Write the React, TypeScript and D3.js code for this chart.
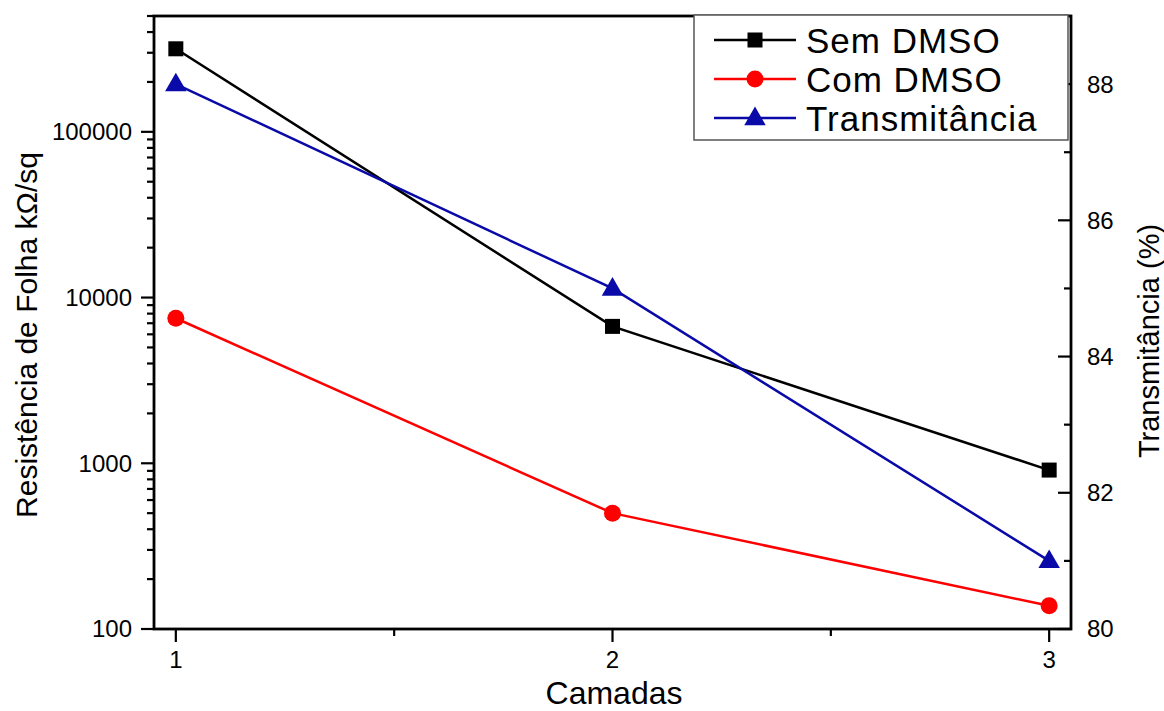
import * as d3 from "d3";

const camadas = [1, 2, 3];
const semDMSO = [317000, 6700, 910];
const comDMSO = [7500, 500, 138];
const transmitancia = [88, 85, 81];
const leftTicks = [100, 1000, 10000, 100000];
const rightTicks = [80, 82, 84, 86, 88];
const xTicks = [1, 2, 3];

const W = 1164, H = 711;
const m = { left: 154, right: 93, top: 16, bottom: 82 };
const FONT = "'Liberation Sans', Arial, sans-serif";

export default function App() {
  const x = d3.scaleLinear().domain([0.95, 3.05]).range([m.left, W - m.right]);
  const yL = d3.scaleLog().domain([100, 500000]).range([H - m.bottom, m.top]);
  const yR = d3.scaleLinear().domain([80, 89]).range([H - m.bottom, m.top]);
  const x0 = m.left, x1 = W - m.right, yb = H - m.bottom, yt = m.top;

  const lineL = d3.line<number>().x((_, i) => x(camadas[i])).y(d => yL(d));
  const lineR = d3.line<number>().x((_, i) => x(camadas[i])).y(d => yR(d));

  const minorL: number[] = [];
  for (let e = 2; e <= 5; e++)
    for (let k = 2; k <= 9; k++) {
      const v = k * Math.pow(10, e);
      if (v <= 500000) minorL.push(v);
    }
  const minorR = d3.range(81, 89.01, 2);
  const minorX = [1.5, 2.5];

  const sq = (cx: number, cy: number, c: string) => <rect x={cx - 7.5} y={cy - 7.5} width={15} height={15} fill={c} />;
  const dot = (cx: number, cy: number, c: string) => <circle cx={cx} cy={cy} r={8.5} fill={c} />;
  const tri = (cx: number, cy: number, c: string) => <path d={d3.symbol(d3.symbolTriangle, 200)()!} transform={`translate(${cx},${cy + 1})`} fill={c} />;

  const series = [
    { name: "Sem DMSO", color: "#000000", d: lineL(semDMSO)!, pts: semDMSO.map((v, i) => [x(camadas[i]), yL(v)]), mk: sq },
    { name: "Com DMSO", color: "#ff0000", d: lineL(comDMSO)!, pts: comDMSO.map((v, i) => [x(camadas[i]), yL(v)]), mk: dot },
    { name: "Transmitância", color: "#0a0aa8", d: lineR(transmitancia)!, pts: transmitancia.map((v, i) => [x(camadas[i]), yR(v)]), mk: tri },
  ];

  return (
    <svg width={W} height={H} style={{ position: "absolute", left: 0, top: 0, background: "#fff" }} fontFamily={FONT}>
      {series.map(s => (
        <g key={s.name}>
          <path d={s.d} fill="none" stroke={s.color} strokeWidth={2.5} />
          {s.pts.map(([px, py], i) => <g key={i}>{s.mk(px, py, s.color)}</g>)}
        </g>
      ))}
      {/* frame */}
      <rect x={x0} y={yt} width={x1 - x0} height={yb - yt} fill="none" stroke="#000" strokeWidth={2.8} />
      {/* left axis */}
      {leftTicks.map(t => (
        <g key={t}>
          <line x1={x0 - 13} x2={x0} y1={yL(t)} y2={yL(t)} stroke="#000" strokeWidth={2.2} />
          <text x={x0 - 22} y={yL(t)} dy="0.35em" textAnchor="end" fontSize={24}>{t}</text>
        </g>
      ))}
      {minorL.filter(v => !leftTicks.includes(v)).map(v => (
        <line key={v} x1={x0 - 7} x2={x0} y1={yL(v)} y2={yL(v)} stroke="#000" strokeWidth={2.2} />
      ))}
      {/* right axis */}
      {rightTicks.map(t => (
        <g key={t}>
          <line x1={x1 - 13} x2={x1} y1={yR(t)} y2={yR(t)} stroke="#000" strokeWidth={2.2} />
          <text x={x1 + 16} y={yR(t)} dy="0.35em" textAnchor="start" fontSize={24}>{t}</text>
        </g>
      ))}
      {minorR.map(v => (
        <line key={v} x1={x1 - 7} x2={x1} y1={yR(v)} y2={yR(v)} stroke="#000" strokeWidth={2.2} />
      ))}
      {/* bottom axis */}
      {xTicks.map(t => (
        <g key={t}>
          <line x1={x(t)} x2={x(t)} y1={yb} y2={yb + 13} stroke="#000" strokeWidth={2.2} />
          <text x={x(t)} y={yb + 39} textAnchor="middle" fontSize={24}>{t}</text>
        </g>
      ))}
      {minorX.map(v => (
        <line key={v} x1={x(v)} x2={x(v)} y1={yb} y2={yb + 7} stroke="#000" strokeWidth={2.2} />
      ))}
      {/* titles */}
      <text x={614} y={704} textAnchor="middle" fontSize={32}>Camadas</text>
      <text transform={`translate(37,335) rotate(-90)`} textAnchor="middle" fontSize={30}>Resistência de Folha kΩ/sq</text>
      <text transform={`translate(1159,341) rotate(-90)`} textAnchor="middle" fontSize={29}>Transmitância (%)</text>
      {/* legend */}
      <rect x={694} y={15} width={374} height={125} fill="#fff" stroke="#555" strokeWidth={1.5} />
      {series.map((s, i) => {
        const ly = 40 + i * 39;
        return (
          <g key={s.name}>
            <line x1={714} x2={796} y1={ly} y2={ly} stroke={s.color} strokeWidth={2.5} />
            {s.mk(755, ly, s.color)}
            <text x={806} y={ly} dy="0.36em" fontSize={35} letterSpacing={1}>{s.name}</text>
          </g>
        );
      })}
    </svg>
  );
}
